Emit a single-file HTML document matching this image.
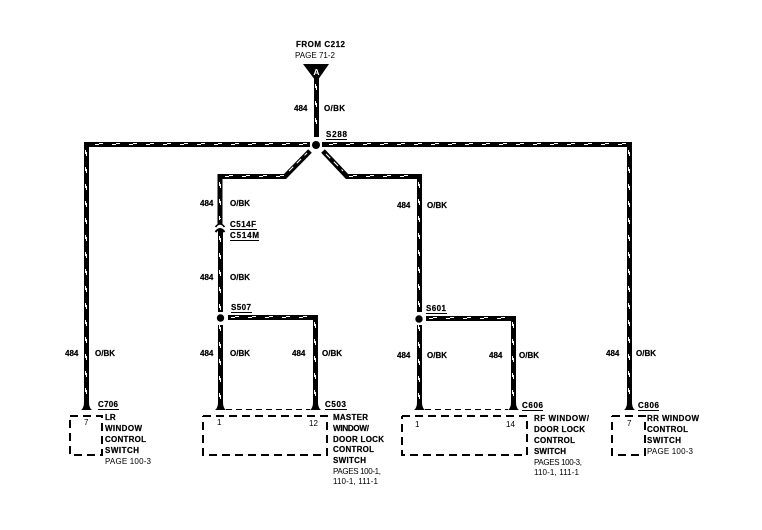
<!DOCTYPE html>
<html>
<head>
<meta charset="utf-8">
<style>
html,body{margin:0;padding:0;background:#fff;width:762px;height:530px;overflow:hidden}
svg{display:block}
text{font-family:"Liberation Sans",sans-serif;font-size:8px;fill:#000}
.b{font-weight:bold;font-size:8.5px}
.b text{stroke:#000;stroke-width:.2}
.n{font-size:7px}
.w{fill:none;stroke:#000;stroke-width:5;stroke-linejoin:miter}
.d{fill:none;stroke:#fff;stroke-width:1;shape-rendering:crispEdges}
.a{stroke-dasharray:4 13}
.c{stroke-dasharray:4 13;stroke-dashoffset:-3}
.u{stroke:#000;stroke-width:1;shape-rendering:crispEdges}
.x{fill:none;stroke:#000;stroke-width:2;stroke-dasharray:8 5;shape-rendering:crispEdges}
</style>
</head>
<body>
<svg width="762" height="530" viewBox="0 0 762 530" xmlns="http://www.w3.org/2000/svg">
<rect width="762" height="530" fill="#fff"/>
<defs>
<path id="dp" d="M316.5 84V134 M96 144.5H308 M330 144.5H626 M86.5 150V402 M629.5 150V402 M226 176.5H284 M350 176.5H416 M220.5 182V220 M220.5 236V312 M220.5 325V402 M419.5 182V312 M419.5 325V402 M232 317.5H312 M430 318.5H510 M315.5 322V402 M513.5 322V402"/>
</defs>

<!-- wires -->
<g class="w">
<path d="M316.5 78V137"/>
<path d="M310 144.5H86.5V405"/>
<path d="M322 144.5H629.5V405"/>
<path d="M218 176.5H285L310 151" />
<path d="M323 151L347 176.5H419.5V312"/>
<path d="M220 174V224"/>
<path d="M220.5 229V312"/>
<path d="M220.5 325V405"/>
<path d="M419.5 325V405"/>
<path d="M228 317.5H315.5V405"/>
<path d="M426 318.5H513.5V405"/>
</g>
<g class="d">
<use href="#dp" class="a" transform="translate(-1,0)"/>
<use href="#dp" class="c" transform="translate(0,-1)"/>
</g>
<path d="M289 171L307 153" stroke="#fff" stroke-width="1" stroke-dasharray="6 5" fill="none"/>
<path d="M326 154L343 171" stroke="#fff" stroke-width="1" stroke-dasharray="6 5" fill="none"/>

<!-- splices -->
<circle cx="316" cy="145" r="4" fill="#000"/>
<circle cx="220.5" cy="318" r="3.7" fill="#000"/>
<circle cx="419" cy="319" r="3.7" fill="#000"/>

<!-- connector C514 -->
<path d="M215.5 227Q220 221 224.5 227" fill="none" stroke="#000" stroke-width="1.6"/>
<path d="M215.5 232Q220 226 224.5 232" fill="none" stroke="#000" stroke-width="2"/>

<!-- pin feet -->
<g fill="#000">
<path d="M81 410Q84 408 84 402H89Q89 408 92 410Z"/>
<path d="M215 410Q218 408 218 402H223Q223 408 226 410Z"/>
<path d="M310 410Q313 408 313 402H318Q318 408 321 410Z"/>
<path d="M414 410Q417 408 417 402H422Q422 408 425 410Z"/>
<path d="M508 410Q511 408 511 402H516Q516 408 519 410Z"/>
<path d="M624 410Q627 408 627 402H632Q632 408 635 410Z"/>
</g>
<g stroke="#000" stroke-width="1" stroke-dasharray="6 4" shape-rendering="crispEdges">
<line x1="226" y1="409.5" x2="310" y2="409.5"/>
<line x1="425" y1="409.5" x2="508" y2="409.5"/>
</g>

<!-- source triangle -->
<path d="M303 64H329L316.5 82Z" fill="#000"/>
<text x="316.5" y="75" text-anchor="middle" style="fill:#fff;font-weight:bold;font-size:8.5px">A</text>

<!-- boxes -->
<path class="x" d="M70 416H102V455H70V416"/>
<path class="x" d="M203 416H327V455H203V416"/>
<path class="x" d="M402 416H527V455H402V416"/>
<path class="x" d="M612 416H645V455H612V416"/>

<!-- top labels -->
<g class="b"><text x="296" y="47" textLength="49" lengthAdjust="spacing">FROM C212</text></g>
<text x="295" y="58" textLength="40" lengthAdjust="spacing">PAGE 71-2</text>

<!-- wire labels -->
<g class="b">
<text x="294" y="111">484</text><text x="324" y="111" textLength="21">O/BK</text>
<text x="200" y="206">484</text><text x="230" y="206" textLength="20">O/BK</text>
<text x="397" y="208">484</text><text x="427" y="208" textLength="20">O/BK</text>
<text x="200" y="280">484</text><text x="230" y="280" textLength="20">O/BK</text>
<text x="65" y="356">484</text><text x="95" y="356" textLength="20">O/BK</text>
<text x="200" y="356">484</text><text x="230" y="356" textLength="20">O/BK</text>
<text x="292" y="356">484</text><text x="322" y="356" textLength="20">O/BK</text>
<text x="397" y="358">484</text><text x="427" y="358" textLength="20">O/BK</text>
<text x="489" y="358">484</text><text x="519" y="358" textLength="20">O/BK</text>
<text x="606" y="356">484</text><text x="636" y="356" textLength="20">O/BK</text>
</g>

<!-- splice and connector labels -->
<g class="b">
<text x="326" y="137" textLength="21">S288</text>
<text x="230" y="227" textLength="26">C514F</text>
<text x="230" y="238" textLength="29">C514M</text>
<text x="231" y="310" textLength="20">S507</text>
<text x="426" y="311" textLength="20">S601</text>
<text x="98" y="407" textLength="20">C706</text>
<text x="325" y="407" textLength="21">C503</text>
<text x="522" y="408" textLength="21">C606</text>
<text x="638" y="408" textLength="21">C806</text>
</g>
<g class="u">
<line x1="326" y1="139.5" x2="347" y2="139.5"/>
<line x1="230" y1="229.5" x2="257" y2="229.5"/>
<line x1="230" y1="240.5" x2="259" y2="240.5"/>
<line x1="231" y1="312.5" x2="252" y2="312.5"/>
<line x1="426" y1="313.5" x2="447" y2="313.5"/>
<line x1="98" y1="409.5" x2="119" y2="409.5"/>
<line x1="325" y1="409.5" x2="347" y2="409.5"/>
<line x1="522" y1="410.5" x2="543" y2="410.5"/>
<line x1="638" y1="410.5" x2="659" y2="410.5"/>
</g>

<!-- pin numbers -->
<g class="n">
<text x="84" y="425">7</text>
<text x="217" y="425">1</text>
<text x="309" y="426">12</text>
<text x="415" y="427">1</text>
<text x="506" y="427">14</text>
<text x="627" y="426">7</text>
</g>

<!-- component labels -->
<g class="b">
<text x="105" y="420">LR</text>
<text x="105" y="431" textLength="37">WINDOW</text>
<text x="105" y="442" textLength="41">CONTROL</text>
<text x="105" y="453" textLength="34">SWITCH</text>
<text x="333" y="420" textLength="35">MASTER</text>
<text x="333" y="431" textLength="36">WINDOW/</text>
<text x="333" y="442" textLength="51">DOOR LOCK</text>
<text x="333" y="452" textLength="41">CONTROL</text>
<text x="333" y="463" textLength="33">SWITCH</text>
<text x="534" y="421" textLength="55">RF WINDOW/</text>
<text x="534" y="432" textLength="51">DOOR LOCK</text>
<text x="534" y="443" textLength="41">CONTROL</text>
<text x="534" y="454" textLength="32">SWITCH</text>
<text x="647" y="421" textLength="52">RR WINDOW</text>
<text x="647" y="432" textLength="41">CONTROL</text>
<text x="647" y="443" textLength="34">SWITCH</text>
</g>
<text x="105" y="464" textLength="46">PAGE 100-3</text>
<text x="333" y="474" textLength="48">PAGES 100-1,</text>
<text x="333" y="484" textLength="45">110-1, 111-1</text>
<text x="534" y="465" textLength="48">PAGES 100-3,</text>
<text x="534" y="475" textLength="45">110-1, 111-1</text>
<text x="647" y="454" textLength="46">PAGE 100-3</text>
</svg>
</body>
</html>
